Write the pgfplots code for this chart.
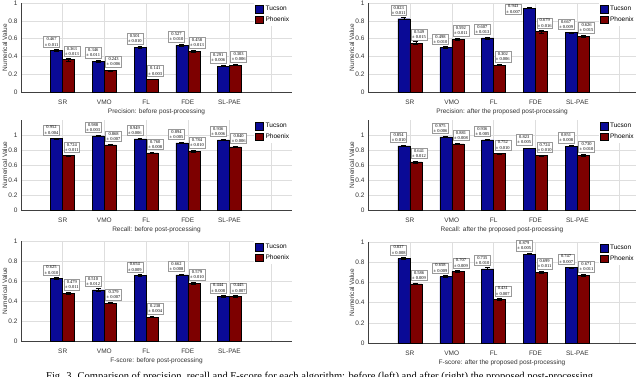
\documentclass[border=0pt]{standalone}
\usepackage{fontspec}
\setmainfont{Liberation Sans}
\newfontfamily\serif{Liberation Serif}
\usepackage{pgfplots}
\usepackage{pgfplotstable}
\pgfplotsset{compat=1.18}

\definecolor{tuc}{RGB}{10,10,150}
\definecolor{phx}{RGB}{125,0,0}

% x = category, t/te = Tucson mean/err, p/pe = Phoenix mean/err
\pgfplotstableread{
x t te p pe
1 0.467 0.011 0.363 0.013
2 0.346 0.011 0.243 0.006
3 0.501 0.010 0.141 0.003
4 0.527 0.010 0.458 0.013
5 0.291 0.006 0.303 0.006
}\precbefore
\pgfplotstableread{
x t te p pe
1 0.823 0.011 0.549 0.015
2 0.498 0.010 0.592 0.011
3 0.607 0.013 0.302 0.006
4 0.943 0.007 0.679 0.016
5 0.667 0.009 0.626 0.015
}\precafter
% Tucson labels after post-processing: FDE label sits left of its bar
\pgfplotstableread{
x t te
1 0.823 0.011
2 0.498 0.010
3 0.607 0.013
5 0.667 0.009
}\precafterlab
\pgfplotstableread{
x t te
4 0.943 0.007
}\precafterfde
\pgfplotstableread{
x t te p pe
1 0.952 0.004 0.724 0.011
2 0.988 0.003 0.868 0.007
3 0.949 0.006 0.760 0.008
4 0.894 0.005 0.784 0.010
5 0.936 0.006 0.840 0.006
}\recbefore
\pgfplotstableread{
x t te p pe
1 0.854 0.010 0.641 0.012
2 0.975 0.006 0.881 0.008
3 0.936 0.005 0.752 0.010
4 0.823 0.005 0.724 0.010
5 0.851 0.008 0.730 0.010
}\recafter
\pgfplotstableread{
x t te p pe
1 0.625 0.010 0.479 0.011
2 0.510 0.012 0.379 0.007
3 0.654 0.009 0.238 0.004
4 0.662 0.008 0.579 0.010
5 0.444 0.008 0.445 0.007
}\fbefore
\pgfplotstableread{
x t te p pe
1 0.837 0.008 0.586 0.009
2 0.658 0.009 0.707 0.009
3 0.735 0.010 0.431 0.007
4 0.879 0.005 0.699 0.011
5 0.747 0.007 0.671 0.011
}\fafter

\pgfplotsset{
  panel/.style={
    scale only axis, ybar=0pt, bar width=12pt, clip=false,
    xmin=0, xmax=6.5, ymin=0, ymax=1,
    xtick={1,...,6}, xticklabels={SR,VMO,FL,FDE,SL-PAE,},
    ytick={0,0.2,...,1},
    grid=major, major grid style={black!13, line width=0.4pt},
    axis x line*=bottom, axis y line*=left,
    axis line style={black!75, line width=0.5pt},
    tick style={draw=none},
    /pgf/number format/assume math mode=true,
    tick label style={font=\fontsize{6.5}{7}\selectfont, text=black!80},
    label style={font=\fontsize{6.5}{7}\selectfont, text=black!80},
    ylabel={Numerical Value},
    ylabel style={yshift=-5.5pt},
    xlabel style={yshift=2pt},
    legend style={at={(rel axis cs:0.86,1)}, anchor=north west, draw=none,
      fill=white, font=\fontsize{6.5}{7.5}\selectfont, inner sep=1pt,
      row sep=0.5pt},
    legend cell align=left,
    legend image code/.code={\draw[##1, draw=black, line width=0.4pt] (0pt,-3.6pt) rectangle (8pt,3.6pt);},
  },
  errs/.style={
    error bars/y dir=both, error bars/y explicit,
    error bars/error bar style={black, line width=0.6pt},
    error bars/error mark options={rotate=90, mark size=2.4pt, black, line width=0.6pt},
  },
  valbox/.style={
    point meta=\thisrow{#1},
    nodes near coords={\pgfmathprintnumber[fixed,fixed zerofill,precision=3]{\pgfkeysvalueof{/data point/y}}\\%
      ± \pgfmathprintnumber[fixed,fixed zerofill,precision=3]{\pgfplotspointmeta}},
    every node near coord/.append style={draw=black!40, fill=white, text=black,
      inner sep=1.1pt, align=center, line width=0.5pt,
      font=\serif\fontsize{4.5}{5.2}\selectfont},
  },
  tucplain/.style={fill=tuc, draw=black, line width=0.4pt, bar shift=-6pt, errs},
  tucbar/.style={tucplain, valbox=te,
    every node near coord/.append style={anchor=south east, xshift=3pt, yshift=3pt}},
  phxbar/.style={fill=phx, draw=black, line width=0.4pt, bar shift=6pt, errs, valbox=pe,
    every node near coord/.append style={anchor=south west, xshift=-5pt, yshift=3pt}},
}

\begin{document}
\begin{tikzpicture}
\useasboundingbox (0pt,0pt) rectangle (640pt,377pt);
\clip (0pt,0pt) rectangle (640pt,377pt);

% Row 1: precision
\begin{axis}[panel, at={(21pt,285pt)}, anchor=south west, width=271pt, height=89pt,
  xlabel={Precision: before post-processing}]
  \addplot[tucbar] table[x=x, y=t, y error=te] {\precbefore};
  \addplot[phxbar] table[x=x, y=p, y error=pe] {\precbefore};
  \legend{Tucson, Phoenix}
\end{axis}
\begin{axis}[panel, xmax=6.4, at={(368pt,285pt)}, anchor=south west, width=268pt, height=89pt,
  xlabel={Precision: after the proposed post-processing}]
  \addplot[tucplain] table[x=x, y=t, y error=te] {\precafter};
  \addplot[phxbar] table[x=x, y=p, y error=pe] {\precafter};
  \legend{Tucson, Phoenix}
  \addplot[draw=none, fill=none, bar shift=-6pt, forget plot, valbox=te,
    every node near coord/.append style={anchor=south east, xshift=3pt, yshift=3pt}]
    table[x=x, y=t] {\precafterlab};
  \addplot[draw=none, fill=none, bar shift=-6pt, forget plot, valbox=te,
    every node near coord/.append style={anchor=east, xshift=-8pt, yshift=-1pt}]
    table[x=x, y=t] {\precafterfde};
\end{axis}

% Row 2: recall
\begin{axis}[panel, ymax=1.2, at={(21pt,167pt)}, anchor=south west, width=271pt, height=90pt,
  xlabel={Recall: before post-processing}]
  \addplot[tucbar] table[x=x, y=t, y error=te] {\recbefore};
  \addplot[phxbar] table[x=x, y=p, y error=pe] {\recbefore};
  \legend{Tucson, Phoenix}
\end{axis}
\begin{axis}[panel, ymax=1.2, xmax=6.4, at={(368pt,167pt)}, anchor=south west, width=268pt, height=90pt,
  xlabel={Recall: after the proposed post-processing}]
  \addplot[tucbar] table[x=x, y=t, y error=te] {\recafter};
  \addplot[phxbar] table[x=x, y=p, y error=pe] {\recafter};
  \legend{Tucson, Phoenix}
\end{axis}

% Row 3: F-score
\begin{axis}[panel, at={(21pt,36pt)}, anchor=south west, width=271pt, height=100pt,
  xlabel={F-score: before post-processing}]
  \addplot[tucbar] table[x=x, y=t, y error=te] {\fbefore};
  \addplot[phxbar] table[x=x, y=p, y error=pe] {\fbefore};
  \legend{Tucson, Phoenix}
\end{axis}
\begin{axis}[panel, xmax=6.4, at={(368pt,34pt)}, anchor=south west, width=268pt, height=101pt,
  xlabel={F-score: after the proposed post-processing}]
  \addplot[tucbar] table[x=x, y=t, y error=te] {\fafter};
  \addplot[phxbar] table[x=x, y=p, y error=pe] {\fafter};
  \legend{Tucson, Phoenix}
\end{axis}

\node[anchor=base, font=\serif\fontsize{10.5}{12}\selectfont, inner sep=0pt]
  at (321pt,-3pt) {Fig. 3. Comparison of precision, recall and F-score for each algorithm: before (left) and after (right) the proposed post-processing.};
\end{tikzpicture}
\end{document}
